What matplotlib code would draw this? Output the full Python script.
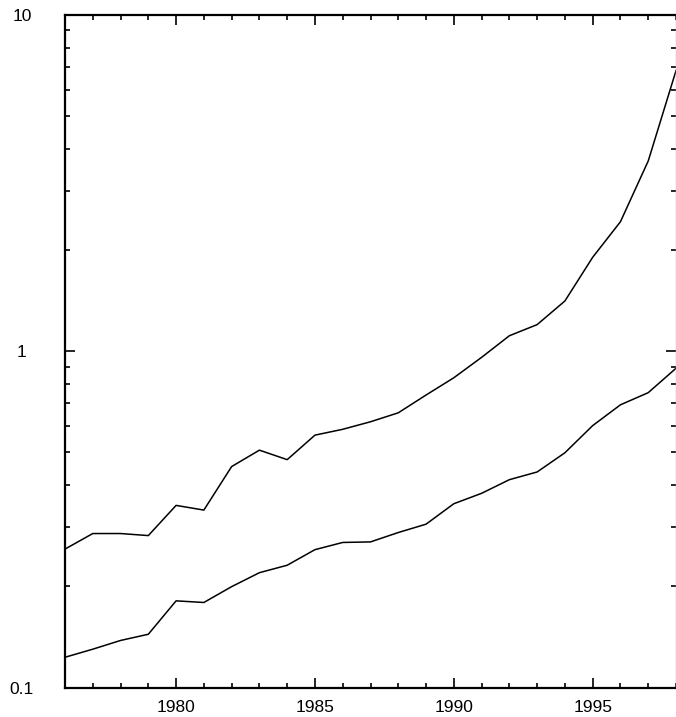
import matplotlib

matplotlib.use("Agg")
import matplotlib.pyplot as plt
from matplotlib.ticker import FixedLocator, LogLocator, NullFormatter, FixedFormatter

plt.rcParams["font.family"] = ["Liberation Sans", "DejaVu Sans"]

years = list(range(1976, 1999))
upper = [0.258, 0.287, 0.287, 0.283, 0.348, 0.337, 0.454, 0.508, 0.476, 0.563,
         0.586, 0.617, 0.656, 0.741, 0.834, 0.959, 1.112, 1.20, 1.411, 1.903,
         2.428, 3.68, 6.83]
lower = [0.123, 0.130, 0.138, 0.144, 0.181, 0.179, 0.1995, 0.2195, 0.231, 0.257,
         0.270, 0.271, 0.289, 0.306, 0.352, 0.378, 0.415, 0.4375, 0.499, 0.601,
         0.693, 0.753, 0.890]
x_major = [1980, 1985, 1990, 1995]
y_major = [0.1, 1, 10]
y_labels = ["0.1", "1", "10"]

fig = plt.figure(figsize=(6.76, 7.17), dpi=100)
ax = fig.add_axes([65 / 676, 1 - 687.5 / 717, 1 - 65 / 676, (687.5 - 15) / 717])

ax.plot(years, upper, color="black", linewidth=1.1)
ax.plot(years, lower, color="black", linewidth=1.1)

ax.set_yscale("log")
ax.set_xlim(1976, 1998)
ax.set_ylim(0.1, 10)

ax.xaxis.set_major_locator(FixedLocator(x_major))
ax.xaxis.set_minor_locator(FixedLocator(years))
ax.yaxis.set_major_locator(FixedLocator(y_major))
ax.yaxis.set_major_formatter(FixedFormatter(y_labels))
ax.yaxis.set_minor_locator(LogLocator(base=10, subs=range(2, 10)))
ax.yaxis.set_minor_formatter(NullFormatter())

ax.tick_params(which="both", direction="in", top=True, right=True, width=1.2, color="black")
ax.tick_params(which="major", length=7.5)
ax.tick_params(which="minor", length=3.8)
ax.tick_params(axis="x", which="major", pad=9, labelsize=12.5)
ax.tick_params(axis="y", which="major", pad=31, labelsize=12.5)
for label in ax.get_yticklabels():
    label.set_horizontalalignment("center")
    label.set_verticalalignment("center_baseline")

for side in ("left", "bottom", "top"):
    ax.spines[side].set_linewidth(1.6)
ax.spines["right"].set_linewidth(1.0)
ax.spines["right"].set_color("#bbbbbb")

fig.savefig("out.png", dpi=100, facecolor="white")
